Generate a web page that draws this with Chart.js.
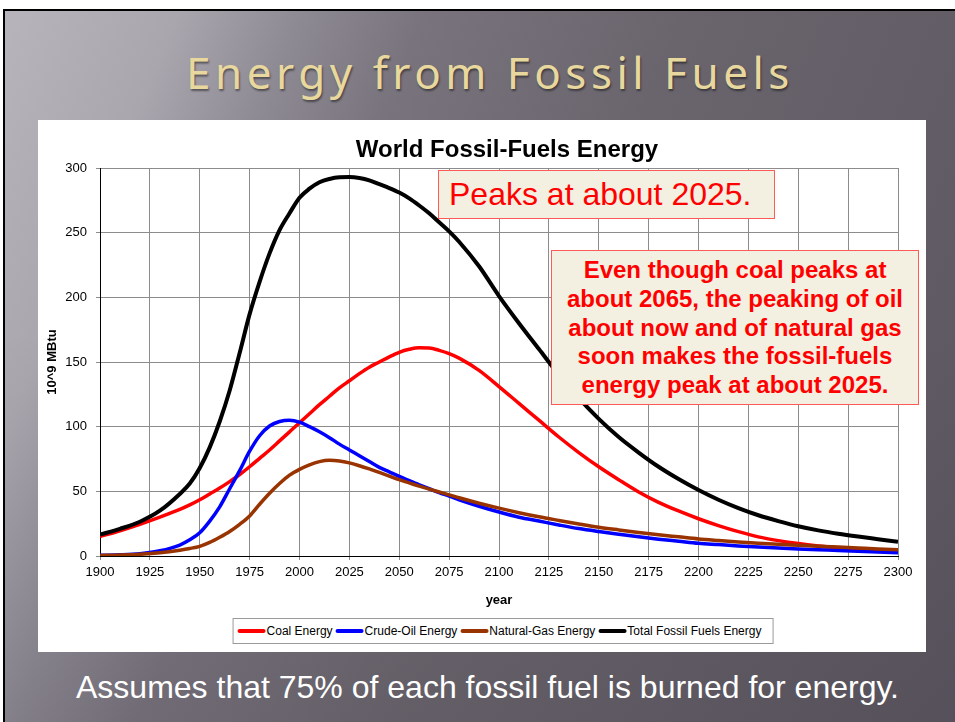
<!DOCTYPE html>
<html>
<head>
<meta charset="utf-8">
<script src="https://cdn.jsdelivr.net/npm/chart.js@4.4.0/dist/chart.umd.min.js"></script>
<style>
  html, body { margin: 0; padding: 0; }
  body { width: 955px; height: 722px; position: relative; overflow: hidden; background: #fff; font-family: "Liberation Sans", Arial, sans-serif; }
  #slide {
    position: absolute; left: 3px; top: 9px; right: 0; bottom: 0;
    border-top: 2px solid #000; border-left: 2px solid #000;
    background-image:
      linear-gradient(to bottom, rgba(50,45,55,0) 0%, rgba(50,45,55,0) 45%, rgba(50,45,55,0.12) 100%),
      linear-gradient(112deg, #b8b4bc 0%, #aaa6ae 14%, #8e8a94 24%, #78737c 34%, #6a656d 55%, #5a555e 100%);
  }
  #slideTitle {
    position: absolute; left: 0; width: 970px; top: 32px; text-align: center;
    font-family: "Noto Sans", sans-serif; font-size: 44px; letter-spacing: 4.5px; line-height: 58px;
    color: #e9d89e; text-shadow: 1px 2px 2px rgba(0,0,0,0.45);
  }
  #chartBox { position: absolute; left: 38px; top: 120px; width: 888px; height: 532px; background: #fff; }
  #chart { position: absolute; left: 38px; top: 120px; }
  #chartTitle {
    position: absolute; left: 507px; top: 135px; transform: translateX(-50%); white-space: nowrap;
    font-weight: bold; font-size: 24px; line-height: 28px; color: #000;
  }
  #legend {
    position: absolute; left: 503px; top: 618px; transform: translateX(-50%); height: 24px;
    border: 1px solid #9a9a9a; background: #fff; display: flex; align-items: center;
    padding: 0 8px 0 4px; white-space: nowrap; font-size: 12px; color: #000;
  }
  #legend .item { display: flex; align-items: center; margin-right: 3px; }
  #legend .mark { width: 28px; height: 4px; border-radius: 2px; margin-right: 1px; }
  .note {
    position: absolute; background: #f4f0e1; border: 1px solid #ff5a5a; color: #ff0000; box-sizing: border-box;
  }
  #note1 { left: 438px; top: 170px; width: 337px; height: 49px; font-size: 32px; line-height: 47px; padding-left: 10px; }
  #note2 {
    left: 551px; top: 250px; width: 368px; height: 155px; font-size: 24px; font-weight: bold;
    line-height: 28.8px; text-align: center; padding-top: 5px;
  }
  #footer {
    position: absolute; left: 0; width: 975px; top: 668px; text-align: center; color: #fff;
    font-family: "Liberation Sans", Arial, sans-serif; font-size: 32px; line-height: 38px;
  }
</style>
</head>
<body>
<div id="slide"><div id="slideTitle">Energy from Fossil Fuels</div></div>
<div id="chartBox"></div>
<canvas id="chart" width="888" height="492"></canvas>
<div id="chartTitle">World Fossil-Fuels Energy</div>
<div id="legend"></div>
<div class="note" id="note1">Peaks at about 2025.</div>
<div class="note" id="note2">Even though coal peaks at<br>about 2065, the peaking of oil<br>about now and of natural gas<br>soon makes the fossil-fuels<br>energy peak at about 2025.</div>
<div id="footer">Assumes that 75% of each fossil fuel is burned for energy.</div>

<script>
// years (x values)
const years = [1900, 1910, 1920, 1930,
               1940, 1945, 1950, 1955, 1960, 1965, 1970, 1975, 1980, 1985, 1990, 1995,
               2000, 2005, 2010, 2015, 2020, 2025, 2030, 2035, 2040, 2045, 2050, 2055,
               2060, 2065, 2070, 2075, 2080,
               2090, 2100, 2110, 2120, 2130, 2140, 2150, 2160, 2170, 2180, 2190,
               2200, 2210, 2220, 2230, 2240, 2250, 2260, 2270, 2280, 2290, 2300];

// 10^9 MBtu
const coalEnergy = [15, 19.5, 24.5, 30,
                    36, 39.5, 43.5, 48, 52.5, 57.5, 63, 69, 75.5, 82, 89, 96,
                    103, 110, 117, 123.5, 130, 135.5, 141, 146, 150, 154, 157.5, 159.8,
                    161, 160.8, 159, 156.5, 153,
                    143.5, 131, 118, 105, 92, 80, 69, 59, 49.5, 41.5, 34.8,
                    28.8, 23.5, 18.8, 14.8, 11.9, 9.6, 7.8, 6.4, 5.2, 4.3, 3.5];
const oilEnergy = [0.5, 0.9, 1.8, 4,
                   8.5, 12.5, 18, 27, 38, 52, 66, 81, 93, 100.5, 104, 105,
                   103.5, 100, 96, 91.5, 86.5, 82, 77.5, 73, 68.5, 65, 61.5, 58.2,
                   55, 52, 49, 46.3, 43.5,
                   38.5, 34, 30, 27, 24, 21.2, 18.9, 16.8, 14.8, 13, 11.4,
                   9.8, 8.8, 7.8, 6.9, 6.1, 5.4, 4.8, 4.3, 3.7, 3.1, 2.6];
const gasEnergy = [0.4, 0.7, 1.3, 2.5,
                   4.5, 5.8, 7.5, 10.5, 14.5, 19, 24.5, 31, 40, 48.5, 56, 62.5,
                   67, 70.5, 73, 74, 73.5, 72, 69.8, 67.3, 64.6, 61.8, 59, 56.5,
                   54, 51.7, 49.5, 47.3, 45,
                   40.8, 37, 33.5, 30.3, 27.5, 24.8, 22.3, 20.2, 18.2, 16.4, 14.8,
                   13.2, 12, 10.9, 9.9, 9, 8.3, 7.6, 6.9, 6.2, 5.5, 4.9];
const totalEnergy = [16.5, 21, 26.5, 35,
                     48, 56, 68, 84, 104, 128, 157, 187, 212, 234, 252, 265,
                     277, 284, 289, 291.5, 292.8, 293, 292.3, 290.5, 287.5, 284.5, 281, 276.5,
                     271, 265, 258, 251, 243,
                     224, 201, 180, 160, 140, 122, 106, 92, 80, 69, 59.5,
                     51, 43.5, 37, 31.5, 27, 23, 19.8, 17.2, 15, 13, 11];

// tick labels
const xTickValues = [1900, 1925, 1950, 1975, 2000, 2025, 2050, 2075, 2100, 2125,
                     2150, 2175, 2200, 2225, 2250, 2275, 2300];
const yTickValues = [0, 50, 100, 150, 200, 250, 300];

const seriesNames = ['Coal Energy', 'Crude-Oil Energy', 'Natural-Gas Energy', 'Total Fossil Fuels Energy'];
const seriesColors = ['#ff0000', '#0000ff', '#993300', '#000000'];
const seriesValues = [coalEnergy, oilEnergy, gasEnergy, totalEnergy];

Chart.defaults.font.family = '"Liberation Sans", Arial, sans-serif';
Chart.defaults.color = '#000';

const gridColor = '#8c8c8c';

const datasets = seriesValues.map((vals, i) => ({
    label: seriesNames[i],
    data: vals.map((v, k) => ({ x: years[k], y: v })),
    borderColor: seriesColors[i],
    backgroundColor: seriesColors[i],
    borderWidth: i === 3 ? 4 : 3.5,
    pointRadius: 0,
    cubicInterpolationMode: 'monotone',
    fill: false,
    order: 4 - i   // later series drawn on top, like Excel
}));

new Chart(document.getElementById('chart'), {
    type: 'line',
    data: { datasets },
    options: {
        responsive: false,
        animation: false,
        layout: { padding: { top: 48, right: 28, bottom: 0, left: 0 } },
        plugins: {
            legend: { display: false },
            title: { display: false },
            tooltip: { enabled: false }
        },
        scales: {
            x: {
                type: 'linear',
                min: 1900,
                max: 2300,
                afterBuildTicks: scale => { scale.ticks = xTickValues.map(v => ({ value: v })); },
                afterFit: scale => { scale.height = 56; },
                ticks: {
                    font: { size: 13 },
                    padding: 5,
                    maxRotation: 0,
                    autoSkip: false,
                    callback: v => String(v)
                },
                grid: { color: gridColor, tickLength: 4 },
                border: { color: '#000', width: 1 },
                title: {
                    display: true,
                    text: 'year',
                    font: { size: 13, weight: 'bold' },
                    padding: { top: 0, bottom: 4 }
                }
            },
            y: {
                min: 0,
                max: 300,
                afterBuildTicks: scale => { scale.ticks = yTickValues.map(v => ({ value: v })); },
                afterFit: scale => { scale.width = 62; },
                ticks: { font: { size: 13 }, padding: 9 },
                grid: { color: gridColor, tickLength: 4 },
                border: { color: '#000', width: 1 },
                title: {
                    display: true,
                    text: '10^9 MBtu',
                    font: { size: 13, weight: 'bold' },
                    padding: { top: 7, bottom: 0 }
                }
            }
        }
    }
});

// legend
const legend = document.getElementById('legend');
seriesNames.forEach((name, i) => {
    const item = document.createElement('div');
    item.className = 'item';
    item.innerHTML = '<span class="mark" style="background:' + seriesColors[i] + '"></span><span>' + name + '</span>';
    legend.appendChild(item);
});
</script>
</body>
</html>
